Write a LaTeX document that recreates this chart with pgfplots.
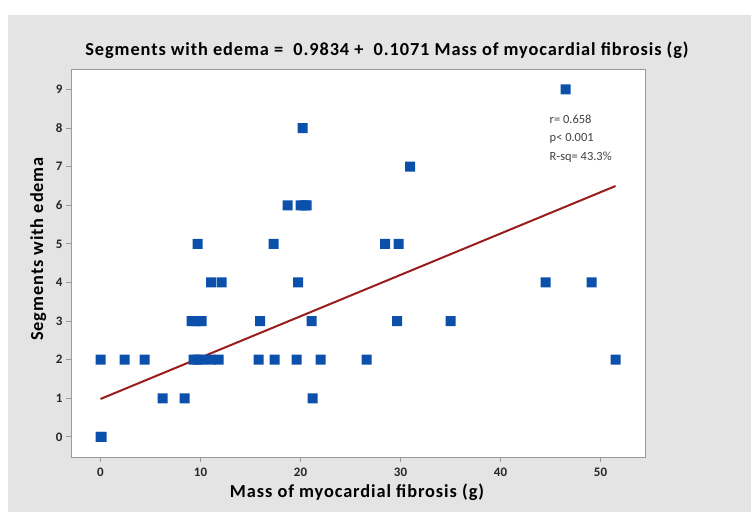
\documentclass[border=0pt]{standalone}
\usepackage{pgfplots}
\pgfplotsset{compat=1.18}
\usepackage{fontspec}
\setmainfont{Carlito}
\newfontfamily\labelfont[LetterSpace=5]{Carlito}

\definecolor{panelgray}{HTML}{E4E4E4}
\definecolor{axisgray}{HTML}{9A9A9A}
\definecolor{ptblue}{HTML}{0B50AA}
\definecolor{fitred}{HTML}{9B1C1C}

\newcommand{\lab}{\labelfont\bfseries\fontsize{18.4}{20}\selectfont}

% rounded square marker, like the reference
\pgfdeclareplotmark{rsquare}{%
  \pgfsetcornersarced{\pgfpoint{3bp}{3bp}}%
  \pgfpathmoveto{\pgfpoint{0pt}{-\pgfplotmarksize}}%
  \pgfpathlineto{\pgfpoint{\pgfplotmarksize}{-\pgfplotmarksize}}%
  \pgfpathlineto{\pgfpoint{\pgfplotmarksize}{\pgfplotmarksize}}%
  \pgfpathlineto{\pgfpoint{-\pgfplotmarksize}{\pgfplotmarksize}}%
  \pgfpathlineto{\pgfpoint{-\pgfplotmarksize}{-\pgfplotmarksize}}%
  \pgfpathclose
  \pgfusepathqfill}

\begin{document}
\begin{tikzpicture}[x=1bp,y=1bp]
\fill[white] (0,0) rectangle (751,512);
\fill[panelgray] (8,0) rectangle (751,497);

\begin{axis}[
  at={(71bp,55bp)}, anchor=south west,
  scale only axis, width=574bp, height=388bp,
  xmin=-2.95, xmax=54.45, ymin=-0.52, ymax=9.53,
  axis background/.style={fill=white},
  axis line style={draw=axisgray, line width=0.9bp},
  xtick={0,10,...,50}, ytick={0,1,...,9},
  xtick pos=bottom, ytick pos=left,
  tick align=outside, major tick length=5bp,
  tick style={draw=axisgray, line width=0.9bp},
  ticklabel style={font=\bfseries\fontsize{13}{13}\selectfont, text=black!85},
  xticklabel style={yshift=-2bp},
  /pgf/number format/assume math mode=true,
  clip=false,
]

% least squares fit: 0.9834 + 0.1071 x
\addplot[fitred, line width=2bp] coordinates {(0,0.9834) (51.5,6.499)};

\addplot[only marks, mark=rsquare, mark size=5bp,
  mark options={fill=ptblue, draw=none}]
  coordinates {
  (0,0) (0.1,0)
  (6.2,1) (8.4,1) (21.2,1)
  (0,2) (2.4,2) (4.4,2) (9.3,2) (9.7,2) (10.1,2) (11.0,2) (11.8,2)
  (15.8,2) (17.4,2) (19.6,2) (22.0,2) (26.6,2) (51.5,2)
  (9.1,3) (9.5,3) (9.8,3) (10.1,3) (15.95,3) (21.1,3) (29.65,3) (35.0,3)
  (11.05,4) (12.1,4) (19.75,4) (44.5,4) (49.1,4)
  (9.72,5) (17.3,5) (28.45,5) (29.8,5)
  (18.7,6) (20.0,6) (20.4,6) (20.6,6)
  (30.95,7)
  (20.2,8)
  (46.5,9)
  };

\node[anchor=west, font=\fontsize{12.5}{12.5}\selectfont, text=black!75,
  align=left, inner sep=0pt] at (axis cs:44.9,7.73)
  {r= 0.658\\[6bp]p< 0.001\\[6bp]R-sq= 43.3\%};
\end{axis}

\node[anchor=base, inner sep=0pt] at (387,456)
  {\lab Segments with edema =\ \ 0.9834 +\ \ 0.1071 Mass of myocardial fibrosis (g)};
\node[anchor=base, inner sep=0pt] at (357,14)
  {\lab Mass of myocardial fibrosis (g)};
\node[anchor=base, inner sep=0pt, rotate=90] at (43,263)
  {\lab Segments with edema};
\end{tikzpicture}
\end{document}
